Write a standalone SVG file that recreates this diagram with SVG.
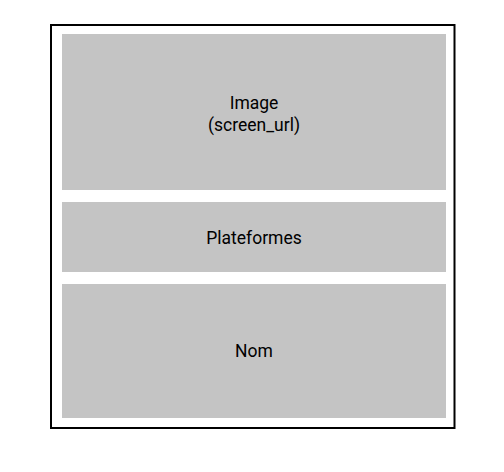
<svg xmlns="http://www.w3.org/2000/svg" width="504" height="472" viewBox="0 0 504 472">
<style>
.frame{fill:#ffffff;stroke:#000000;stroke-width:2}
.block{fill:#c4c4c4}
.lbl{font-family:Roboto,"Liberation Sans",sans-serif;font-size:17.5px;fill:#000000;text-anchor:middle}
</style>
<rect x="0" y="0" width="504" height="472" fill="#ffffff"/>
<g id="frame"><rect class="frame" x="51" y="25" width="403.5" height="403"/></g>
<g id="image">
<rect class="block" x="62" y="34" width="384" height="156"/>
<text class="lbl" x="254" y="109">Image</text>
<text class="lbl" x="254" y="131">(screen_url)</text>
</g>
<g id="plateformes">
<rect class="block" x="62" y="202" width="384" height="70"/>
<text class="lbl" x="254" y="243.5">Plateformes</text>
</g>
<g id="nom">
<rect class="block" x="62" y="284" width="384" height="134"/>
<text class="lbl" x="254" y="357">Nom</text>
</g>
<g id="connectors"></g>
</svg>
